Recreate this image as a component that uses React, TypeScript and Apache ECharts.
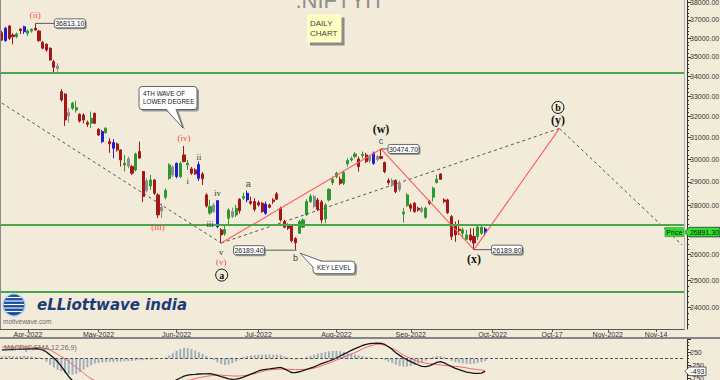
import React, { useEffect, useRef } from "react";
import * as echarts from "echarts";

// ---------------- data ----------------
const holidays = ["2022-04-14", "2022-04-15", "2022-05-03", "2022-08-09", "2022-08-15", "2022-08-31"];
const firstBarDate = "2022-03-23";
const lastBarDate = "2022-09-29";
const axisEndDate = "2022-11-21";

const tickDates = ["2022-04-01", "2022-05-02", "2022-06-01", "2022-07-01", "2022-08-01", "2022-09-01", "2022-10-01", "2022-10-17", "2022-11-01", "2022-11-14"];
const tickLabels = ["Apr-2022", "May-2022", "Jun-2022", "Jul-2022", "Aug-2022", "Sep-2022", "Oct-2022", "Oct-17", "Nov-2022", "Nov-14"];

const priceTicks = [24000, 25000, 26000, 27000, 28000, 29000, 30000, 31000, 32000, 33000, 34000, 35000, 36000, 37000, 38000];
// 27000 label sits under the last-price marker in the reference
const priceLabels = [24000, 25000, 26000, 28000, 29000, 30000, 31000, 32000, 33000, 34000, 35000, 36000, 37000, 38000];
const priceMin = 23243;
const priceMax = 38130;

const opens = [
  36300, 35870, 36670, 36175, 36085, 36500, 36355, 36270, 36390, 36540,
  36390, 35780, 35670, 35457, 34751, 34400, 33219, 33100, 32180, 32398,
  32316, 32107, 32074, 31705, 31675, 32155, 31390, 30813, 31235, 30813,
  30505, 30707, 30430, 29751, 29700, 29676, 29528, 30355, 29453, 28620,
  28826, 29087, 28438, 27760, 28340, 29160, 29300, 29233, 29233, 30202,
  29751, 29573, 29528, 29160, 29350, 28438, 27676, 27740, 27113, 26980,
  26818, 27457, 27530, 27596, 28255, 28300, 28225, 28155, 28155, 28110,
  28085, 27665, 28014, 28225, 28480, 27875, 27320, 27184, 27141, 26630,
  26844, 27092, 27596, 28155, 28370, 28225, 28140, 27430, 28225, 28970,
  29235, 29115, 28940, 29800, 29975, 30125, 30020, 30170, 30202, 29950,
  29826, 30125, 30125, 29860, 29060, 28870, 29060, 28680, 27640, 27983,
  28014, 28085, 27875, 27735, 27500, 28155, 28340, 28970, 29350, 28225,
  28225, 27525, 27184, 27010, 26845, 26600, 26778, 26711, 26711, 26845,
  27020,
];
const highs = [
  36410, 36630, 36723, 36270, 36300, 36540, 36685, 36485, 36540, 36813.1,
  36448, 35850, 35725, 35510, 34840, 34668, 33353, 33136, 32398, 32722,
  32772, 32155, 32155, 31800, 32235, 32185, 31440, 31359, 31485, 30970,
  30924, 30767, 30462, 30202, 30125, 29751, 30306, 30814, 29483, 29160,
  29307, 29118, 28510, 28083, 28725, 29826, 29751, 29855, 29900, 30610,
  29975, 29662, 29600, 29900, 29440, 28510, 28225, 28098, 28225, 27045,
  27184, 27870, 27900, 28014, 28300, 28530, 28623, 28370, 28300, 28200,
  28140, 28155, 28060, 28300, 28566, 27942, 27389, 27250, 27184, 26685,
  27389, 27457, 28255, 28480, 28438, 28310, 28225, 28085, 28725, 29235,
  29453, 29235, 29497, 30050, 30125, 30330, 30125, 30355, 30300, 30202,
  30355, 30200, 30474.7, 29900, 29160, 29160, 29118, 29060, 27880, 28510,
  28085, 28140, 27942, 27960, 27942, 28225, 28796, 29307, 29380, 28300,
  28270, 27596, 27320, 27389, 27080, 26980, 27050, 27050, 27140, 27184,
  27090,
];
const lows = [
  35850, 35810, 35904, 35670, 35995, 36230, 36230, 36120, 36300, 36410,
  35812, 35405, 35278, 34803, 34200, 34233, 32722, 31547, 31705, 32316,
  32185, 31705, 31674, 31502, 31455, 31640, 31077, 30736, 31170, 30300,
  30050, 30352, 29680, 29462, 29603, 29307, 29453, 30030, 28140, 28540,
  28653, 28438, 27460, 27460, 28254, 29087, 29220, 29160, 29160, 29870,
  29528, 29307, 29300, 29043, 28869, 27900, 27596, 27680, 27047, 26450,
  26740, 27140, 27460, 27510, 27650, 28225, 28120, 28014, 27735, 27940,
  27680, 27596, 27870, 28050, 28225, 27320, 27050, 26980, 26470, 26189.4,
  26818, 27050, 27550, 28100, 27870, 27760, 27250, 27250, 28155, 28870,
  29160, 28870, 28870, 29676, 29900, 30050, 29453, 30050, 29826, 29826,
  29751, 29900, 30000, 29380, 28870, 28780, 28510, 28580, 27280, 27942,
  27735, 27680, 27735, 27680, 27430, 28014, 28155, 28940, 29087, 28085,
  27630, 26577, 26500, 26778, 26650, 26577, 26510, 26189.8, 26577, 26778,
  26740,
];
const closes = [
  35900, 36540, 35995, 36085, 36230, 36410, 36630, 36390, 36485, 36450,
  35866, 35460, 35368, 34840, 34459, 34520, 32806, 31834, 32030, 32643,
  32430, 31786, 31834, 31630, 31915, 31675, 31124, 31280, 31440, 30707,
  30767, 30430, 29975, 29826, 30030, 29380, 30247, 30060, 28374, 29050,
  29087, 28510, 27596, 27920, 28623, 29751, 29650, 29826, 29826, 29900,
  29826, 29380, 29350, 29766, 29140, 27970, 27942, 28014, 28195, 26778,
  26995, 27804, 27735, 27870, 27775, 28370, 28510, 28085, 27830, 28014,
  27735, 28050, 27915, 28155, 28255, 27389, 27092, 27050, 26550, 26460,
  27320, 27389, 28155, 28370, 27950, 27830, 27389, 28014, 28680, 29115,
  29380, 28940, 29410, 29945, 30030, 30247, 29676, 30230, 29900, 30125,
  30280, 30000, 30050, 29453, 28970, 29060, 28580, 28940, 27720, 28438,
  27875, 27735, 27804, 27875, 27875, 28085, 28725, 29115, 29118, 28155,
  27690, 26710, 26778, 26950, 26980, 26778, 26577, 26450, 27090, 27090,
  26891.3,
];
// d = down bar (red), u = up bar (green), b = blue bar, n = neutral bar (grey)
const barKinds = [
  "dbddudbuud", "dddddnddnu", "uddduddbud", "bddunduddn", "uddnuunbud",
  "uddbddunbd", "uunudubddd", "dbdddddddd", "uuuundduuu", "uduuuududn",
  "bndddndnuu", "dddnuduudd", "dddduudduu", "b",
].join("");

const levelLines = [34356, 27210, 24530];

const waveDates = ["2022-06-17", "2022-08-19", "2022-09-26", "2022-10-19"];
const wavePrices = [26450, 30474.7, 26189.8, 31430];
const channelA = { dates: ["2022-03-23", "2022-06-17"], prices: [32650, 26450] };
const channelB = { dates: ["2022-06-17", "2022-10-19"], prices: [26450, 31430] };
const channelC = { dates: ["2022-10-19", "2022-11-21"], prices: [31430, 26374] };

const macdLine = [
  330, 335, 340, 345, 350, 355, 360, 365, 370, 375,
  365, 330, 250, 135, 20, -123, -300, -500, -700, -850,
  -950, -1030, -1090, -1140, -1180, -1200, -1230, -1250, -1260, -1270,
  -1280, -1285, -1290, -1290, -1285, -1280, -1260, -1240, -1240, -1230,
  -1210, -1190, -1200, -1170, -1080, -980, -900, -820, -750, -680,
  -640, -620, -610, -596, -590, -590, -580, -610, -650, -700,
  -740, -780, -800, -790, -762, -720, -660, -600, -540, -480,
  -440, -420, -400, -377, -360, -345, -400, -470, -546, -540,
  -510, -470, -420, -370, -320, -260, -200, -150, -96, -40,
  20, 96, 170, 240, 310, 380, 440, 500, 540, 570,
  585, 590, 580, 540, 450, 350, 220, 120, 30, -50,
  -120, -190, -250, -300, -315, -280, -220, -150, -123, -170,
  -240, -315, -380, -430, -480, -520, -546, -570, -575, -560,
  -493,
];
const signalLine = [
  440, 440, 440, 440, 440, 440, 440, 440, 435, 430,
  420, 400, 365, 327, 250, 160, 70, -10, -110, -230,
  -340, -442, -560, -680, -780, -850, -910, -960, -1000, -1040,
  -1070, -1090, -1110, -1125, -1135, -1145, -1150, -1155, -1155, -1155,
  -1150, -1145, -1140, -1130, -1110, -1080, -1040, -1000, -950, -900,
  -850, -810, -770, -740, -710, -690, -665, -650, -640, -640,
  -650, -660, -670, -675, -673, -660, -640, -610, -580, -540,
  -500, -460, -440, -425, -415, -410, -410, -415, -420, -425,
  -425, -420, -415, -400, -370, -330, -280, -230, -180, -120,
  -60, 0, 60, 110, 170, 230, 290, 370, 430, 480,
  520, 546, 540, 510, 454, 390, 320, 230, 130, 60,
  0, -60, -110, -150, -180, -200, -215, -230, -250, -265,
  -280, -295, -305, -315, -340, -360, -390, -410, -430, -442,
  -460,
];
const macdHist = [
  80, 90, 100, 90, 80, 90, 100, 90, 80, 60,
  40, -30, -130, -250, -350, -440, -500, -560, -600, -620,
  -590, -520, -430, -340, -260, -200, -170, -150, -140, -130,
  -130, -120, -120, -110, -100, -90, -80, -60, -60, -50,
  -40, -30, -20, -10, 40, 120, 200, 300, 370, 410,
  400, 360, 300, 240, 180, 100, 30, -60, -150, -220,
  -250, -230, -180, -110, -40, 60, 100, 120, 130, 140,
  150, 150, 150, 140, 150, 140, 90, 40, -30, -40,
  -20, 20, 60, 100, 150, 190, 220, 250, 280, 290,
  290, 280, 250, 220, 180, 150, 120, 90, 60, 40,
  20, 10, -20, -60, -120, -180, -240, -290, -315, -310,
  -290, -250, -200, -150, -80, 20, 60, 90, 96, 60,
  -20, -90, -140, -170, -190, -200, -210, -200, -170, -140,
  -100,
];
const macdAxisMin = -2250;
const macdAxisMax = 750;
const macdAxisStep = 500;
const macdLabels = [250, -250, -750];

// ---------------- helpers ----------------
const lg = Math.log;

function buildCategories(): string[] {
  const out: string[] = [];
  const d = new Date(firstBarDate + "T00:00:00Z");
  const last = new Date(lastBarDate + "T00:00:00Z");
  const end = new Date(axisEndDate + "T00:00:00Z");
  while (d <= end) {
    const iso = d.toISOString().slice(0, 10);
    const wd = d.getUTCDay();
    if (d > last) out.push(iso);
    else if (wd !== 0 && wd !== 6 && holidays.indexOf(iso) < 0) out.push(iso);
    d.setUTCDate(d.getUTCDate() + 1);
  }
  return out;
}

const BG = "#f3ebda";
const SANS = "Liberation Sans, Arial, sans-serif";
const SERIF = "Liberation Serif, Times New Roman, serif";

export default function App() {
  const ref = useRef<HTMLDivElement>(null);

  useEffect(() => {
    document.body.style.margin = "0";
    const el = ref.current as HTMLDivElement;
    const chart = echarts.init(el, null, { renderer: "svg", width: 720, height: 380 });
    const cats = buildCategories();
    const ix = (d: string) => cats.indexOf(d);

    const kindColor: any = { d: "#a51616", u: "#2e982e", b: "#1d1dd4", n: "#8d8d8d" };
    const candleData = opens.map((o, i) => {
      const c = kindColor[barKinds[i]];
      return {
        value: [lg(o), lg(closes[i]), lg(lows[i]), lg(highs[i])],
        itemStyle: { color: c, color0: c, borderColor: c, borderColor0: c, borderColorDoji: c },
      };
    });

    const minorTicks: number[] = [];
    for (let p = 23400; p <= 38000; p += 200) if (p % 1000 !== 0) minorTicks.push(lg(p));

    const toPts = (dates: string[], prices: number[]) => dates.map((d, i) => [ix(d), lg(prices[i])]);

    const option: any = {
      animation: false,
      backgroundColor: BG,
      grid: [
        { left: 0, right: 36, top: 0, height: 329, outerBoundsMode: "none", containLabel: false },
        { left: 0, right: 36, top: 339, height: 78, outerBoundsMode: "none", containLabel: false },
      ],
      xAxis: [
        {
          type: "category",
          gridIndex: 0,
          data: cats,
          boundaryGap: true,
          axisLine: { show: true, lineStyle: { color: "#555", width: 1 } },
          axisTick: {
            show: true,
            alignWithLabel: true,
            length: 3,
            interval: (i: number, v: string) => tickDates.indexOf(v) >= 0,
            lineStyle: { color: "#555" },
          },
          axisLabel: {
            interval: (i: number, v: string) => tickDates.indexOf(v) >= 0,
            formatter: (v: string) => tickLabels[tickDates.indexOf(v)] || "",
            fontSize: 7,
            fontFamily: SANS,
            color: "#333",
            margin: 2,
          },
          splitLine: { show: false },
        },
        { type: "category", gridIndex: 1, data: cats, boundaryGap: true, show: false },
      ],
      yAxis: [
        {
          type: "value",
          gridIndex: 0,
          position: "right",
          offset: 3,
          min: lg(priceMin),
          max: lg(priceMax),
          splitLine: { show: false },
          axisLine: { show: true, lineStyle: { color: "#333" } },
          axisTick: { show: true, length: 4, customValues: priceTicks.map(lg), lineStyle: { color: "#333" } },
          axisLabel: {
            customValues: priceLabels.map(lg),
            formatter: (v: number) => Math.round(Math.exp(v)).toFixed(2),
            fontSize: 7,
            fontFamily: SANS,
            color: "#333",
            margin: 3,
          },
        },
        {
          type: "value",
          gridIndex: 0,
          position: "right",
          offset: 3,
          min: lg(priceMin),
          max: lg(priceMax),
          splitLine: { show: false },
          axisLine: { show: false },
          axisTick: { show: true, length: 2, customValues: minorTicks, lineStyle: { color: "#333" } },
          axisLabel: { show: false },
        },
        {
          type: "value",
          gridIndex: 1,
          position: "right",
          offset: 3,
          min: macdAxisMin,
          max: macdAxisMax,
          interval: macdAxisStep,
          splitLine: { show: false },
          axisLine: { show: true, lineStyle: { color: "#333" } },
          axisTick: { show: true, length: 4, lineStyle: { color: "#333" } },
          minorTick: { show: true, splitNumber: 4, length: 2, lineStyle: { color: "#333" } },
          axisLabel: { customValues: macdLabels, fontSize: 7, fontFamily: SANS, color: "#333", margin: 3 },
        },
      ],
      series: [
        {
          type: "candlestick",
          xAxisIndex: 0,
          yAxisIndex: 0,
          data: candleData,
          barWidth: 2.6,
          z: 3,
          markLine: {
            silent: true,
            symbol: ["none", "none"],
            label: { show: false },
            lineStyle: { color: "#4ba64b", width: 2, type: "solid" },
            data: levelLines.map((v) => ({ yAxis: lg(v) })),
          },
        },
        {
          type: "line",
          xAxisIndex: 0,
          yAxisIndex: 0,
          data: toPts(waveDates, wavePrices),
          symbol: "none",
          lineStyle: { color: "#ff5a5a", width: 1.1 },
          silent: true,
          z: 4,
        },
        ...[channelA, channelB, channelC].map((c) => ({
          type: "line",
          xAxisIndex: 0,
          yAxisIndex: 0,
          data: toPts(c.dates, c.prices),
          symbol: "none",
          lineStyle: { color: "#555", width: 1, type: [3, 3] },
          silent: true,
          z: 2,
        })),
        {
          type: "bar",
          xAxisIndex: 1,
          yAxisIndex: 2,
          data: macdHist,
          barWidth: 2,
          itemStyle: { color: "#9fb0bc" },
          silent: true,
          markLine: {
            silent: true,
            symbol: ["none", "none"],
            label: { show: false },
            lineStyle: { color: "#555", width: 1, type: [3, 2] },
            data: [{ yAxis: 0 }],
          },
        },
        {
          type: "line",
          xAxisIndex: 1,
          yAxisIndex: 2,
          data: signalLine,
          symbol: "none",
          lineStyle: { color: "#f06868", width: 1 },
          silent: true,
        },
        {
          type: "line",
          xAxisIndex: 1,
          yAxisIndex: 2,
          data: macdLine,
          symbol: "none",
          lineStyle: { color: "#151515", width: 1.3 },
          silent: true,
        },
      ],
    };
    chart.setOption(option);

    // ---------------- annotations ----------------
    const P = (d: string, p: number) =>
      chart.convertToPixel({ xAxisIndex: 0, yAxisIndex: 0 }, [ix(d), lg(p)]) as number[];
    const els: any[] = [];
    const Z = 100;
    const T = (x: number, y: number, text: string, st: any = {}) =>
      els.push({
        type: "text",
        x,
        y,
        z: Z,
        silent: true,
        style: { text, align: "center", verticalAlign: "middle", fill: "#333", fontSize: 8, fontFamily: SANS, ...st },
      });
    const R = (x: number, y: number, w: number, h: number, st: any = {}, r = 0) =>
      els.push({ type: "rect", z: Z, silent: true, shape: { x, y, width: w, height: h, r }, style: { fill: "#fff", stroke: "#555", lineWidth: 1, ...st } });
    const Ln = (x1: number, y1: number, x2: number, y2: number, st: any = {}) =>
      els.push({ type: "line", z: Z, silent: true, shape: { x1, y1, x2, y2 }, style: { stroke: "#333", lineWidth: 0.8, ...st } });
    const valueBox = (left: number, cy: number, text: string) => {
      R(left + 1.5, cy - 4.5 + 1.5, 31, 9, { fill: "#9a9a9a", stroke: "none" }, 2);
      R(left, cy - 4.5, 31, 9, { fill: "#fff", stroke: "#444", lineWidth: 0.8 }, 2);
      T(left + 15.5, cy + 0.5, text, { fontSize: 7, fill: "#222" });
    };

    const labelStyles: any = {
      red: { fontFamily: SERIF, fontSize: 9, fill: "#ff4848" },
      roman: { fontFamily: SERIF, fontSize: 8.5, fill: "#333" },
      abc: { fontFamily: SANS, fontSize: 9, fill: "#444" },
      major: { fontFamily: SERIF, fontSize: 12, fontWeight: "bold", fill: "#111" },
    };
    const waveLabels = [
      { text: "(ii)", date: "2022-04-05", price: 36813.1, dx: 0, dy: -8.5, s: "red" },
      { text: "(iii)", date: "2022-05-25", price: 27460, dx: 0, dy: 9, s: "red" },
      { text: "(iv)", date: "2022-06-03", price: 30610, dx: 0, dy: -8, s: "red" },
      { text: "(v)", date: "2022-06-17", price: 26450, dx: 0, dy: 18.5, s: "red" },
      { text: "i", date: "2022-06-06", price: 29528, dx: 0, dy: 11.5, s: "roman" },
      { text: "ii", date: "2022-06-09", price: 29900, dx: 0, dy: -5, s: "roman" },
      { text: "iii", date: "2022-06-14", price: 27596, dx: 0, dy: 9, s: "roman" },
      { text: "iv", date: "2022-06-16", price: 28225, dx: 0, dy: -7, s: "roman" },
      { text: "v", date: "2022-06-17", price: 26450, dx: 0, dy: 8.5, s: "roman" },
      { text: "a", date: "2022-06-28", price: 28623, dx: 1, dy: -7, s: "abc" },
      { text: "b", date: "2022-07-15", price: 26189.4, dx: 0, dy: 8, s: "abc" },
      { text: "c", date: "2022-08-19", price: 30474.7, dx: 0, dy: -7.5, s: "abc" },
      { text: "(w)", date: "2022-08-19", price: 30474.7, dx: 0, dy: -20, s: "major" },
      { text: "(x)", date: "2022-09-26", price: 26189.8, dx: 0, dy: 9.5, s: "major" },
      { text: "(y)", date: "2022-10-19", price: 31430, dx: -1.5, dy: -8.5, s: "major" },
    ];
    waveLabels.forEach((w) => {
      const p = P(w.date, w.price);
      T(p[0] + w.dx, p[1] + w.dy, w.text, labelStyles[w.s]);
    });
    const circled = [
      { text: "a", date: "2022-06-17", price: 26450, dx: 0.5, dy: 32 },
      { text: "b", date: "2022-10-19", price: 31430, dx: -1.5, dy: -21 },
    ];
    circled.forEach((c) => {
      const p = P(c.date, c.price);
      els.push({ type: "circle", z: Z, silent: true, shape: { cx: p[0] + c.dx, cy: p[1] + c.dy, r: 6 }, style: { fill: "none", stroke: "#111", lineWidth: 1 } });
      T(p[0] + c.dx, p[1] + c.dy, c.text, { fontFamily: SERIF, fontSize: 10, fontWeight: "bold", fill: "#111" });
    });

    // price value boxes
    const pHi = P("2022-04-05", 36813.1);
    Ln(pHi[0], pHi[1], pHi[0] + 19, pHi[1]);
    valueBox(pHi[0] + 19, pHi[1], "36813.10");
    const pC = P("2022-08-19", 30474.7);
    Ln(pC[0], pC[1], pC[0] + 7, pC[1]);
    valueBox(pC[0] + 7, pC[1], "30474.70");
    const pB = P("2022-07-15", 26189.4);
    Ln(pB[0] - 30, pB[1] + 0.5, pB[0] + 1, pB[1] + 0.5);
    valueBox(pB[0] - 62, pB[1] + 0.5, "26189.40");
    const pX = P("2022-09-26", 26189.8);
    Ln(pX[0], pX[1], pX[0] + 17.5, pX[1]);
    valueBox(pX[0] + 17.5, pX[1], "26189.80");

    // callout: 4TH WAVE OF LOWER DEGREE
    const pIv = P("2022-06-03", 30610);
    {
      const bx = pIv[0] - 45, by = pIv[1] - 59.5, bw = 58, bh = 23;
      const tip = [pIv[0] - 1, pIv[1] - 18];
      R(bx + 2, by + 2, bw, bh, { fill: "#9a9a9a", stroke: "none" }, 3);
      els.push({ type: "polygon", z: Z, silent: true, shape: { points: [[bx + 29, by + bh], [bx + 39, by + bh], [tip[0] + 2, tip[1] + 2]] }, style: { fill: "#9a9a9a", stroke: "none" } });
      R(bx, by, bw, bh, { fill: "#fff", stroke: "#555", lineWidth: 0.9 }, 3);
      els.push({ type: "polygon", z: Z, silent: true, shape: { points: [[bx + 27, by + bh - 1], [bx + 37, by + bh - 1], tip] }, style: { fill: "#fff", stroke: "none" } });
      els.push({ type: "polyline", z: Z, silent: true, shape: { points: [[bx + 27, by + bh], tip, [bx + 37, by + bh]] }, style: { fill: "none", stroke: "#555", lineWidth: 0.9 } });
      T(bx + 4, by + 7, "4TH WAVE OF", { align: "left", fontSize: 6.3, fill: "#222" });
      T(bx + 4, by + 14.5, "LOWER DEGREE", { align: "left", fontSize: 6.3, fill: "#222" });
    }
    // callout: KEY LEVEL
    {
      const bx = pB[0] + 17.5, by = pB[1] + 11.5, bw = 42, bh = 12.5;
      const tip = [pB[0] + 4.5, pB[1] + 3.5];
      R(bx + 2, by + 2, bw, bh, { fill: "#9a9a9a", stroke: "none" }, 3);
      R(bx, by, bw, bh, { fill: "#fff", stroke: "#555", lineWidth: 0.9 }, 3);
      els.push({ type: "polygon", z: Z, silent: true, shape: { points: [[bx + 0.6, by + 6], tip, [bx + 9, by + 0.6], [bx + 6, by + 6]] }, style: { fill: "#fff", stroke: "none" } });
      els.push({ type: "polyline", z: Z, silent: true, shape: { points: [[bx, by + 6], tip, [bx + 9, by]] }, style: { fill: "none", stroke: "#555", lineWidth: 0.9 } });
      T(bx + bw / 2, by + bh / 2 + 0.5, "KEY LEVEL", { fontSize: 6.3, fill: "#222" });
    }

    // last price markers
    const lastClose = closes[closes.length - 1];
    const yP = P(lastBarDate, lastClose)[1];
    R(665, yP - 4.5, 18.5, 9, { fill: "#2fe02f", stroke: "#1c9a1c", lineWidth: 0.6 });
    T(674.3, yP + 0.5, "Price", { fontSize: 7, fill: "#111" });
    els.push({ type: "polygon", z: Z, silent: true, shape: { points: [[684.5, yP], [689, yP - 4.8], [720, yP - 4.8], [720, yP + 4.8], [689, yP + 4.8]] }, style: { fill: "#2fe02f", stroke: "#222", lineWidth: 0.7 } });
    T(704.5, yP + 0.5, lastClose.toFixed(2), { fontSize: 7, fill: "#111" });

    const lastMacd = macdLine[macdLine.length - 1];
    const yM = (chart.convertToPixel({ xAxisIndex: 1, yAxisIndex: 2 }, [0, lastMacd]) as number[])[1];
    els.push({ type: "polygon", z: Z, silent: true, shape: { points: [[685, yM], [689, yM - 4.3], [706, yM - 4.3], [706, yM + 4.3], [689, yM + 4.3]] }, style: { fill: "#fff", stroke: "#222", lineWidth: 0.7 } });
    T(697.5, yM + 0.5, String(lastMacd), { fontSize: 7, fill: "#111" });

    // frame & separators
    Ln(0.5, 0, 0.5, 329, { stroke: "#8a8a8a", lineWidth: 1 });
    Ln(684.5, 0, 684.5, 329, { stroke: "#b5b5b5", lineWidth: 1 });
    R(0, 337, 720, 2, { fill: "#858585", stroke: "none" });
    T(4, 347.5, "MACD(C,EMA,12,26,9)", { align: "left", fontSize: 7, fill: "#666" });

    // title & note
    T(340, 11, ".NIFTYIT", { verticalAlign: "bottom", fontSize: 22, fill: "#8e8e8e" });
    R(310, 17.5, 34.5, 28, { fill: "#8a8a8a", stroke: "none" });
    R(307, 14.5, 34.5, 28, { fill: "#ffffc2", stroke: "none" });
    T(310, 23.5, "DAILY", { align: "left", fontSize: 8, fill: "#444" });
    T(310, 33.5, "CHART", { align: "left", fontSize: 8, fill: "#444" });

    // logo
    const gx = 14, gy = 305, gr = 11;
    els.push({ type: "circle", z: Z, silent: true, shape: { cx: gx, cy: gy, r: gr }, style: { fill: "#1f4f9c", stroke: "#9fd6ef", lineWidth: 1.3 } });
    [-7.5, -4, -0.5, 3, 6.5].forEach((dy) => {
      const hw = Math.sqrt(Math.max(0, gr * gr - dy * dy)) * 0.92;
      Ln(gx - hw, gy + dy, gx + hw, gy + dy, { stroke: "#ffffff", lineWidth: 1.1 });
    });
    T(37, 304.5, "eLLiottwave india", { align: "left", fontSize: 15, fontStyle: "italic", fontWeight: "bold", fontFamily: "DejaVu Sans, sans-serif", fill: "#1d3c76" });
    T(3, 321.5, "motivewave.com", { align: "left", fontSize: 6.5, fill: "#6a6a6a" });

    chart.setOption({ graphic: { elements: els } });

    return () => chart.dispose();
  }, []);

  return <div ref={ref} style={{ position: "fixed", left: 0, top: 0, width: 720, height: 380, background: BG }} />;
}
